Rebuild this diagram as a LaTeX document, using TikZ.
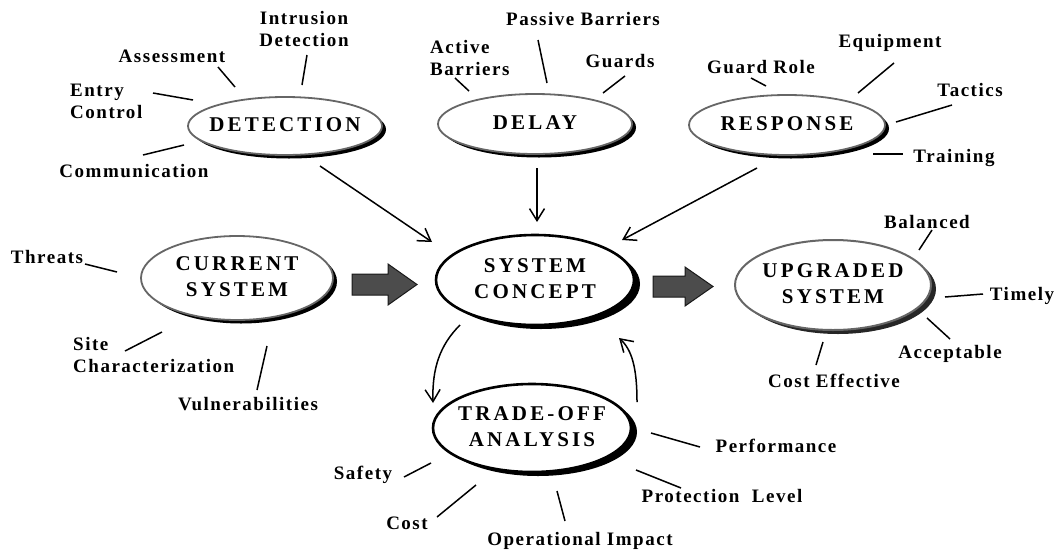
\documentclass[tikz,border=0pt]{standalone}
\usepackage{fontspec}
\setmainfont{Liberation Serif}
\newfontfamily\labelfamily[LetterSpace=8]{Liberation Serif}
\newfontfamily\titlefamily[LetterSpace=15]{Liberation Serif}
\usetikzlibrary{shapes.geometric,shadows,arrows.meta,calc}
\newcommand\ovaltext[1]{\makebox[0pt]{\begin{tabular}{@{}c@{}}#1\end{tabular}}}

\begin{document}
\begin{tikzpicture}[x=1pt,y=-1pt,
  lbl/.style={inner sep=0pt, anchor=base, align=center,
    font=\labelfamily\bfseries\fontsize{19}{22}\selectfont},
  ttl/.style={ellipse, inner sep=0pt, fill=white,
    font=\titlefamily\bfseries\fontsize{21}{26}\selectfont},
  soft/.style={ttl, draw=black!60, line width=1.8pt,
    drop shadow={shadow xshift=4pt, shadow yshift=-3.5pt, fill=black, opacity=1}},
  softer/.style={ttl, draw=black!60, line width=2pt,
    drop shadow={shadow xshift=5pt, shadow yshift=-4pt, fill=black!85, opacity=1}},
  hard/.style={ttl, draw=black, line width=2.6pt,
    drop shadow={shadow xshift=6pt, shadow yshift=-4pt, fill=black, opacity=1}},
  tick/.style={line width=1.5pt},
  arr/.style={line width=1.5pt, -{Straight Barb[length=12pt,width=15pt,line width=1.5pt]}},
  block/.style={fill=black!70, draw=black!90, line width=1pt}
]
\useasboundingbox (0,0) rectangle (1062,552);

% the seven ovals
\node[soft, minimum width=194pt, minimum height=58pt] (det) at (285,126) {\ovaltext{DETECTION}};
\node[soft, minimum width=194pt, minimum height=60pt] (del) at (535,124) {\ovaltext{DELAY}};
\node[soft, minimum width=196pt, minimum height=60pt] (res) at (787,125) {\ovaltext{RESPONSE}};
\node[soft, minimum width=192pt, minimum height=84pt] (cur) at (237,278) {\ovaltext{CURRENT\\SYSTEM}};
\node[hard, minimum width=198pt, minimum height=90pt] (sys) at (535,280) {\ovaltext{SYSTEM\\CONCEPT}};
\node[softer, minimum width=196pt, minimum height=90pt] (upg) at (833,285) {\ovaltext{UPGRADED\\SYSTEM}};
\node[hard, minimum width=198pt, minimum height=88pt] (trd) at (532,428) {\ovaltext{TRADE-OFF\\ANALYSIS}};

% inputs into the concept
\draw[arr] ($(det)+(35,40)$) -- ($(sys)+(-103,-38)$);
\draw[arr] ($(del)+(2,44)$) -- ($(sys)+(2,-58)$);
\draw[arr] ($(res)+(-30,43)$) -- ($(sys)+(87,-40)$);

% trade-off loop
\draw[arr] ($(sys)+(-75,45)$) .. controls ($(sys)+(-95,65)$) and ($(trd)+(-100,-60)$) .. ($(trd)+(-99,-25)$);
\draw[arr] ($(trd)+(105,-26)$) .. controls ($(trd)+(105,-60)$) and ($(sys)+(97,70)$) .. ($(sys)+(84,58)$);

% broad arrows
\draw[block] (352,274) -- (388,274) -- (388,264) -- (417,284.5) -- (388,305) -- (388,295) -- (352,295) -- cycle;
\draw[block] (653,276) -- (685,276) -- (685,267) -- (713,286.5) -- (685,306) -- (685,297) -- (653,297) -- cycle;

% detection factors
\node[lbl] (intr) at (304,46) {Intrusion\\Detection};
\node[lbl] (asse) at (172,62) {Assessment};
\node[lbl, align=left, anchor=base west] (entr) at (70,118) {Entry\\Control};
\node[lbl] (comm) at (134,177) {Communication};
\draw[tick] (307,55) -- (302,85);
\draw[tick] (218,67) -- (235,87);
\draw[tick] (153,93) -- (193,100);
\draw[tick] (143,155) -- (184,145);

% delay factors
\node[lbl] (pass) at (583,25) {Passive Barriers};
\node[lbl, align=left, anchor=base west] (acti) at (430,75) {Active\\Barriers};
\node[lbl] (guar) at (620,67) {Guards};
\draw[tick] (538,40) -- (547,83);
\draw[tick] (455,78) -- (469,91);
\draw[tick] (625,76) -- (603,93);

% response factors
\node[lbl] (equi) at (890,47) {Equipment};
\node[lbl] (grol) at (761,73) {Guard Role};
\node[lbl] (tact) at (970,96) {Tactics};
\node[lbl] (trai) at (954,162) {Training};
\draw[tick] (894,63) -- (858,93);
\draw[tick] (751,78) -- (766,86);
\draw[tick] (952,105) -- (896,122);
\draw[tick] (873,154) -- (903,154);

% current system factors
\node[lbl] (thre) at (47,263) {Threats};
\node[lbl, align=left, anchor=base west] (site) at (73,372) {Site\\Characterization};
\node[lbl] (vuln) at (248,410) {Vulnerabilities};
\draw[tick] (85,264) -- (117,272);
\draw[tick] (125,351) -- (162,332);
\draw[tick] (267,346) -- (257,390);

% upgraded system qualities
\node[lbl] (bala) at (927,228) {Balanced};
\node[lbl] (time) at (1022,300) {Timely};
\node[lbl] (acce) at (950,358) {Acceptable};
\node[lbl] (cost) at (834,387) {Cost Effective};
\draw[tick] (932,230) -- (919,250);
\draw[tick] (945,297) -- (983,294);
\draw[tick] (927,318) -- (950,339);
\draw[tick] (823,342) -- (816,365);

% trade-off criteria
\node[lbl] (perf) at (776,452) {Performance};
\node[lbl] (prot) at (722,502) {Protection\ \ Level};
\node[lbl] (oper) at (580,545) {Operational Impact};
\node[lbl] (tcos) at (407,529) {Cost};
\node[lbl] (safe) at (363,479) {Safety};
\draw[tick] (651,433) -- (700,447);
\draw[tick] (636,470) -- (681,488);
\draw[tick] (557,491) -- (565,521);
\draw[tick] (437,517) -- (476,485);
\draw[tick] (404,477) -- (431,463);
\end{tikzpicture}
\end{document}
